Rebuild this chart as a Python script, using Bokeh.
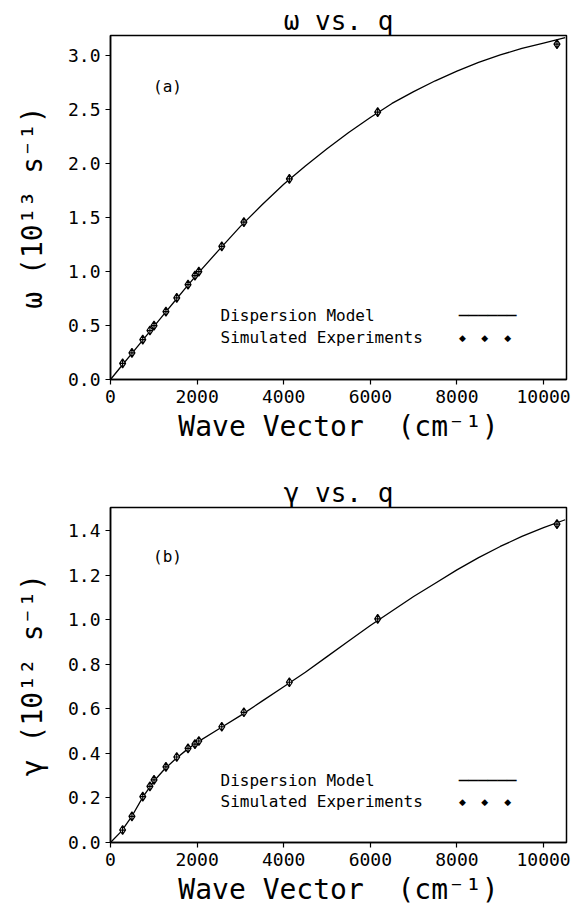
from bokeh.plotting import figure
from bokeh.layouts import column
from bokeh.models import Range1d, FixedTicker, PrintfTickFormatter, Label
from bokeh.embed import file_html
from bokeh.resources import INLINE

# ---------------- data ----------------
q_points = [280, 495, 745, 910, 1005, 1280, 1530, 1790, 1950, 2040, 2570, 3080, 4130, 6170, 10310]
omega_points = [0.15, 0.247, 0.37, 0.454, 0.50, 0.63, 0.757, 0.88, 0.963, 1.0, 1.234, 1.46, 1.86, 2.48, 3.11]
gamma_points = [0.056, 0.117, 0.206, 0.252, 0.281, 0.34, 0.384, 0.423, 0.442, 0.456, 0.52, 0.585, 0.72, 1.005, 1.43]

q_curve = [0, 250, 500, 750, 1000, 1250, 1500, 1750, 2000, 2500, 3000, 3500, 4000, 4500, 5000,
           5500, 6000, 6500, 7000, 7500, 8000, 8500, 9000, 9500, 10000, 10500]
omega_curve = [0.0, 0.123, 0.245, 0.368, 0.49, 0.613, 0.735, 0.857, 0.975, 1.2, 1.42, 1.62, 1.81, 1.98,
               2.14, 2.29, 2.43, 2.56, 2.67, 2.77, 2.86, 2.94, 3.01, 3.07, 3.12, 3.17]
gamma_curve = [0.0, 0.05, 0.12, 0.205, 0.275, 0.33, 0.375, 0.415, 0.45, 0.51, 0.57, 0.635, 0.70, 0.765,
               0.835, 0.905, 0.975, 1.04, 1.105, 1.165, 1.225, 1.28, 1.33, 1.375, 1.415, 1.45]

x_ticks = [0, 2000, 4000, 6000, 8000, 10000]
omega_ticks = [0.0, 0.5, 1.0, 1.5, 2.0, 2.5, 3.0]
gamma_ticks = [0.0, 0.2, 0.4, 0.6, 0.8, 1.0, 1.2, 1.4]

FONT = "DejaVu Sans Mono"


def make_panel(title, ylabel, yvals_curve, yvals_pts, yticks, ymax, tag, tag_y,
               leg_y1, leg_y2, height, top, bottom):
    p = figure(width=586, height=height, output_backend="svg", toolbar_location=None,
               x_range=Range1d(0, 10530), y_range=Range1d(0, ymax),
               min_border_left=110, min_border_right=20,
               min_border_top=top, min_border_bottom=bottom)
    p.title.text = title
    p.title.align = "center"
    p.title.text_font = FONT
    p.title.text_font_size = "26px"
    p.title.text_font_style = "normal"
    p.title.text_color = "black"
    p.title.standoff = 0
    p.grid.visible = False
    p.outline_line_color = "black"
    p.outline_line_width = 1.5
    p.outline_line_alpha = 1.0

    p.line(q_curve, yvals_curve, line_color="black", line_width=1.3)
    p.scatter(q_points, yvals_pts, marker="diamond_cross", size=9,
              line_color="black", line_width=1.2, fill_color="white")

    for ax in (p.xaxis[0], p.yaxis[0]):
        ax.axis_line_color = "black"
        ax.axis_line_width = 1.5
        ax.major_tick_line_color = "black"
        ax.major_tick_line_width = 1.2
        ax.major_tick_in = 0
        ax.major_tick_out = 5
        ax.minor_tick_line_color = None
        ax.major_label_text_font = FONT
        ax.major_label_text_font_size = "18px"
        ax.major_label_text_color = "black"
        ax.axis_label_text_font = FONT
        ax.axis_label_text_font_size = "28px"
        ax.axis_label_text_font_style = "normal"
        ax.axis_label_text_color = "black"

    p.xaxis.ticker = FixedTicker(ticks=x_ticks)
    p.xaxis.axis_label = "Wave Vector\u00a0\u00a0(cm\u207b\u00b9)"
    p.xaxis.major_label_standoff = 5
    p.xaxis.axis_label_standoff = 4

    p.yaxis.ticker = FixedTicker(ticks=yticks)
    p.yaxis.formatter = PrintfTickFormatter(format="%.1f")
    p.yaxis.axis_label = ylabel
    p.yaxis.major_label_standoff = 5
    p.yaxis.axis_label_standoff = 16

    lab = dict(text_font=FONT, text_color="black", text_baseline="middle")
    p.add_layout(Label(x=1316, y=tag_y, text=tag, text_font_size="16px", text_align="center", **lab))
    p.add_layout(Label(x=2540, y=leg_y1, text="Dispersion Model", text_font_size="16px",
                       text_align="left", **lab))
    p.add_layout(Label(x=2540, y=leg_y2, text="Simulated Experiments", text_font_size="16px",
                       text_align="left", **lab))
    p.add_layout(Label(x=8040, y=leg_y1, text="\u2500\u2500\u2500\u2500\u2500\u2500", text_font_size="16px",
                       text_align="left", **lab))
    for xd in (8130, 8640, 9170):
        p.add_layout(Label(x=xd, y=leg_y2, text="\u25c6", text_font="DejaVu Sans", text_color="black",
                           text_font_size="9px", text_align="center", text_baseline="middle"))
    return p


pa = make_panel("\u03c9 vs. q", "\u03c9 (10\u00b9\u00b3 s\u207b\u00b9)", omega_curve, omega_points,
                omega_ticks, 3.19, "(a)", 2.72, 0.593, 0.389, 460, 35, 81)
pb = make_panel("\u03b3 vs. q", "\u03b3 (10\u00b9\u00b2 s\u207b\u00b9)", gamma_curve, gamma_points,
                gamma_ticks, 1.505, "(b)", 1.286, 0.28, 0.184, 448, 47, 57)

layout = column(pa, pb)
open("out.html", "w").write(file_html(layout, INLINE))
